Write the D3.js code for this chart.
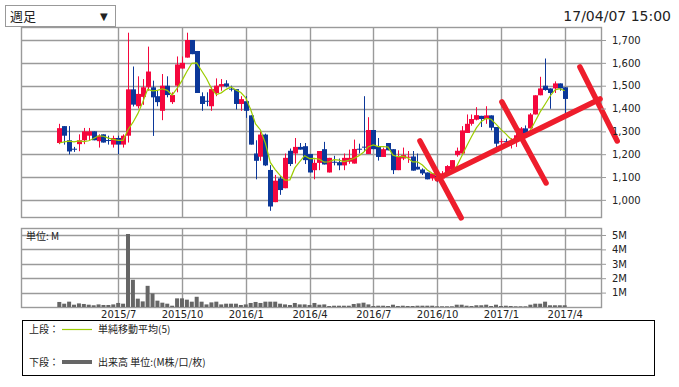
<!DOCTYPE html>
<html>
<head>
<meta charset="utf-8">
<script src="https://cdn.jsdelivr.net/npm/d3@7"></script>
<style>
  body { margin: 0; background: #fff; }
  text { font-family: "DejaVu Sans", sans-serif; fill: #222; }
  .jp { font-family: "Noto Sans CJK JP", sans-serif; }
</style>
</head>
<body>
<div class="d3Chart"></div>
<script>
// 週足 OHLC (2015/4/13 - 2017/4/3)
var opens = [1249,1323,1261,1224,1244,1261,1281,1300,1257,1287,1262,1242,1271,1242,1281,1484,1410,1451,1493,1493,
  1454,1390,1500,1428,1500,1575,1623,1700,1652,1454,1434,1410,1468,1497,1510,1487,1485,1420,1432,1370,
  1203,1189,1286,1131,990,1094,1051,1215,1203,1232,1235,1201,1130,1162,1222,1120,1167,1165,1151,1167,
  1159,1224,1233,1201,1306,1235,1188,1249,1222,1130,1181,1187,1190,1145,1133,1120,1094,1106,1094,1109,
  1133,1196,1203,1293,1333,1351,1368,1354,1370,1319,1255,1257,1250,1254,1275,1313,1313,1374,1458,1500,
  1488,1488,1510,1493];
var highs = [1333,1323,1323,1232,1287,1315,1315,1300,1287,1287,1281,1281,1281,1287,1732,1584,1541,1529,1671,1522,
  1478,1551,1541,1471,1628,1628,1732,1700,1652,1471,1471,1493,1532,1529,1524,1500,1485,1454,1454,1370,
  1261,1300,1290,1152,1109,1104,1203,1225,1271,1249,1249,1201,1177,1214,1254,1184,1193,1181,1203,1220,
  1264,1246,1454,1362,1306,1271,1229,1249,1222,1217,1229,1214,1214,1203,1138,1120,1116,1116,1126,1152,
  1174,1229,1323,1374,1374,1406,1368,1410,1370,1319,1268,1268,1270,1290,1319,1326,1380,1458,1539,1619,
  1488,1519,1510,1493];
var lows = [1244,1242,1199,1210,1213,1244,1261,1261,1229,1251,1242,1229,1200,1229,1251,1409,1400,1416,1478,1280,
  1410,1349,1449,1420,1471,1575,1623,1638,1468,1390,1410,1390,1454,1478,1493,1475,1396,1390,1359,1242,
  1090,1171,1148,952,990,1022,1051,1148,1159,1220,1157,1120,1090,1130,1155,1120,1151,1130,1130,1158,
  1159,1203,1210,1201,1222,1172,1188,1217,1113,1130,1174,1162,1128,1133,1109,1090,1084,1077,1080,1109,
  1133,1189,1196,1293,1325,1348,1319,1333,1304,1229,1229,1243,1225,1232,1268,1293,1313,1374,1458,1478,
  1399,1468,1478,1377];
var closes = [1314,1281,1212,1222,1261,1300,1300,1261,1281,1251,1259,1271,1242,1281,1484,1417,1464,1493,1562,1449,
  1428,1500,1459,1459,1593,1600,1700,1638,1468,1420,1431,1485,1500,1507,1497,1484,1420,1441,1390,1242,
  1171,1286,1151,971,1084,1043,1184,1157,1232,1220,1174,1120,1162,1214,1155,1184,1165,1151,1184,1184,
  1223,1221,1230,1306,1222,1188,1222,1217,1130,1188,1196,1189,1128,1133,1116,1090,1116,1084,1116,1148,
  1174,1215,1304,1333,1354,1371,1354,1370,1316,1246,1257,1255,1258,1283,1313,1293,1374,1458,1488,1481,
  1468,1510,1488,1442];
// 出来高 (M)
var volumes = [0.35,0.23,0.37,0.16,0.25,0.21,0.16,0.12,0.18,0.14,0.14,0.18,0.28,0.23,5.07,1.89,0.58,0.39,1.47,0.94,
  0.44,0.30,0.23,0.09,0.60,0.60,0.51,0.37,0.71,0.37,0.18,0.32,0.37,0.18,0.23,0.23,0.23,0.14,0.18,0.28,
  0.35,0.28,0.37,0.37,0.37,0.23,0.18,0.14,0.28,0.18,0.18,0.14,0.28,0.16,0.18,0.07,0.09,0.09,0.09,0.09,
  0.21,0.25,0.30,0.18,0.07,0.09,0.09,0.07,0.16,0.07,0.09,0.07,0.07,0.09,0.09,0.09,0.09,0.05,0.05,0.05,
  0.05,0.16,0.16,0.09,0.07,0.12,0.12,0.16,0.07,0.16,0.07,0.09,0.07,0.05,0.05,0.05,0.16,0.23,0.23,0.37,
  0.12,0.12,0.12,0.12];
// 移動平均用の直前4週の終値
var preCloses = [1256,1197,1237,1241];
var priceTicks = [1000,1100,1200,1300,1400,1500,1600,1700];
var volTicks = [1,2,3,4,5];
// 手書きの赤線 [週index, 価格]
var redLines = [
  [[73.5,1258],[81.9,921]],
  [[77.0,1092],[110.2,1442]],
  [[90.2,1429],[99.2,1074]],
  [[106.1,1582],[113.7,1258]]
];

var weeks = d3.timeMonday.range(new Date(2015,3,13), new Date(2017,3,4));
var data = weeks.map(function (d, i) {
  return { i: i, date: d, o: opens[i], h: highs[i], l: lows[i], c: closes[i], v: volumes[i] };
});
var allCloses = preCloses.concat(closes);
var ma = closes.map(function (c, i) {
  return { i: i, v: d3.mean(allCloses.slice(i, i + 5)) };
});
// 四半期の最初の週
var qIdx = [];
weeks.forEach(function (d, i) {
  if (i > 0 && d.getMonth() !== weeks[i - 1].getMonth() && d.getMonth() % 3 === 0) qIdx.push(i);
});

var width = 679, height = 387;
var left = 21, right = 601;
var svg = d3.select(".d3Chart").append("svg")
  .attr("width", width).attr("height", height)
  .style("background-color", "#fff");

var x = d3.scaleLinear().domain([0, weeks.length - 1]).range([59.3, 564.7]);
var y = d3.scaleLinear().domain([925, 1757]).range([217, 27]);
var yv = d3.scaleLinear().domain([0, 5.486]).range([307, 228]);

var red = "#f5073d", blue = "#0b3799", grid = "#9a9a9a";

// 上段 grid
var g1 = svg.append("g");
g1.selectAll(".hg").data(priceTicks).enter().append("line")
  .attr("x1", left).attr("x2", right)
  .attr("y1", function (d) { return Math.round(y(d)) + 0.5; })
  .attr("y2", function (d) { return Math.round(y(d)) + 0.5; })
  .attr("stroke", grid).attr("stroke-width", 1.4);
g1.selectAll(".vg").data(qIdx).enter().append("line")
  .attr("x1", function (d) { return Math.round(x(d)) + 0.5; })
  .attr("x2", function (d) { return Math.round(x(d)) + 0.5; })
  .attr("y1", 27).attr("y2", 217)
  .attr("stroke", grid).attr("stroke-width", 1.4);
g1.append("rect").attr("x", left + 0.5).attr("y", 27.5).attr("width", right - left).attr("height", 190)
  .attr("fill", "none").attr("stroke", grid).attr("stroke-width", 1.4);

// 下段 grid
var g2 = svg.append("g");
g2.selectAll(".hg").data(volTicks).enter().append("line")
  .attr("x1", left).attr("x2", right)
  .attr("y1", function (d) { return Math.round(yv(d)) + 0.5; })
  .attr("y2", function (d) { return Math.round(yv(d)) + 0.5; })
  .attr("stroke", grid).attr("stroke-width", 1.4);
g2.selectAll(".vg").data(qIdx).enter().append("line")
  .attr("x1", function (d) { return Math.round(x(d)) + 0.5; })
  .attr("x2", function (d) { return Math.round(x(d)) + 0.5; })
  .attr("y1", 228).attr("y2", 307)
  .attr("stroke", grid).attr("stroke-width", 1.4);
g2.append("rect").attr("x", left + 0.5).attr("y", 228.5).attr("width", right - left).attr("height", 79)
  .attr("fill", "none").attr("stroke", grid).attr("stroke-width", 1.4);

// 出来高
g2.selectAll(".vol").data(data).enter().append("rect")
  .attr("x", function (d) { return x(d.i) - 2; })
  .attr("width", 4)
  .attr("y", function (d) { return yv(d.v); })
  .attr("height", function (d) { return yv(0) - yv(d.v); })
  .attr("fill", "#666");

// ローソク足
var candles = svg.append("g").selectAll("g").data(data).enter().append("g")
  .attr("fill", function (d) { return d.c >= d.o ? red : blue; })
  .attr("stroke", function (d) { return d.c >= d.o ? red : blue; });
candles.append("line")
  .attr("x1", function (d) { return Math.round(x(d.i)) + 0.5; })
  .attr("x2", function (d) { return Math.round(x(d.i)) + 0.5; })
  .attr("y1", function (d) { return y(d.h); })
  .attr("y2", function (d) { return y(d.l); })
  .attr("stroke-width", 1);
candles.append("rect")
  .attr("x", function (d) { return Math.round(x(d.i)) - 2; })
  .attr("width", 5)
  .attr("y", function (d) { return y(Math.max(d.o, d.c)); })
  .attr("height", function (d) { return Math.max(1, y(Math.min(d.o, d.c)) - y(Math.max(d.o, d.c))); })
  .attr("stroke", "none");

// 移動平均
svg.append("path").datum(ma)
  .attr("fill", "none").attr("stroke", "#9ccc00").attr("stroke-width", 1.2)
  .attr("d", d3.line().x(function (d) { return x(d.i); }).y(function (d) { return y(d.v); }));

// 赤線
svg.append("g").selectAll("line").data(redLines).enter().append("line")
  .attr("x1", function (d) { return x(d[0][0]); })
  .attr("y1", function (d) { return y(d[0][1]); })
  .attr("x2", function (d) { return x(d[1][0]); })
  .attr("y2", function (d) { return y(d[1][1]); })
  .attr("stroke", "#ee1d2c").attr("stroke-width", 5.5).attr("stroke-linecap", "round");

// 軸
var yAxis = d3.axisRight(y).tickValues(priceTicks).tickSize(5).tickPadding(6).tickFormat(d3.format(","));
svg.append("g").attr("transform", "translate(" + right + ",0)").call(yAxis);
var vAxis = d3.axisRight(yv).tickValues(volTicks).tickSize(5).tickPadding(6).tickFormat(function (d) { return d + "M"; });
svg.append("g").attr("transform", "translate(" + right + ",0)").call(vAxis);
var xAxis = d3.axisBottom(x).tickValues(qIdx).tickSize(0).tickPadding(4)
  .tickFormat(function (i) { return weeks[i].getFullYear() + "/" + (weeks[i].getMonth() + 1); });
svg.append("g").attr("transform", "translate(0,307)").call(xAxis);
svg.selectAll(".domain").remove();
svg.selectAll(".tick line").attr("stroke", grid);
svg.selectAll(".tick text").attr("font-family", "DejaVu Sans").attr("font-size", 10).attr("fill", "#222");

svg.append("text").attr("class", "jp").attr("x", 26).attr("y", 240).attr("font-size", 10).text("単位: M");

// 上部
svg.append("rect").attr("x", 5.5).attr("y", 5.5).attr("width", 110).attr("height", 21)
  .attr("fill", "#fff").attr("stroke", "#999");
svg.append("text").attr("class", "jp").attr("x", 10).attr("y", 21).attr("font-size", 13).text("週足");
svg.append("text").attr("x", 100).attr("y", 20).attr("font-size", 10).text("▼");
svg.append("text").attr("x", 671).attr("y", 21).attr("text-anchor", "end")
  .attr("font-family", "Liberation Sans").attr("font-size", 14).attr("fill", "#444").text("17/04/07 15:00");

// 凡例
var lg = svg.append("g");
lg.append("rect").attr("x", 22.5).attr("y", 320.5).attr("width", 632).attr("height", 55)
  .attr("fill", "#fff").attr("stroke", "#000");
lg.append("text").attr("class", "jp").attr("x", 29).attr("y", 333).attr("font-size", 10).text("上段：");
lg.append("line").attr("x1", 62).attr("x2", 92).attr("y1", 329.5).attr("y2", 329.5)
  .attr("stroke", "#9ccc00").attr("stroke-width", 1.2);
lg.append("text").attr("class", "jp").attr("x", 98).attr("y", 333).attr("font-size", 10).text("単純移動平均(5)");
lg.append("text").attr("class", "jp").attr("x", 29).attr("y", 366).attr("font-size", 10).text("下段：");
lg.append("line").attr("x1", 62).attr("x2", 92).attr("y1", 362).attr("y2", 362)
  .attr("stroke", "#666").attr("stroke-width", 4);
lg.append("text").attr("class", "jp").attr("x", 98).attr("y", 366).attr("font-size", 10).text("出来高 単位:(M株/口/枚)");
</script>
</body>
</html>
